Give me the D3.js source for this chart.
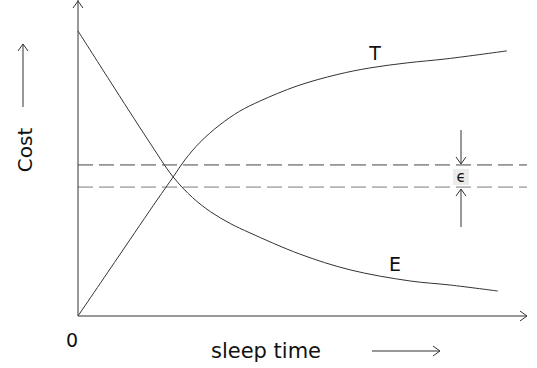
<!DOCTYPE html>
<html lang="en">
<head>
<meta charset="utf-8">
<title>Cost vs sleep time</title>
<script src="https://cdn.jsdelivr.net/npm/d3@7"></script>
<style>
  body { margin: 0; background: #fff; }
  svg text { font-family: 'DejaVu Sans', sans-serif; fill: #111; }
</style>
</head>
<body>
<script>
// sleep time (0..100) -> cost (0..100)
var eTime = [0, 7.1, 15.6, 21.2, 25.5, 29.5, 34.0, 38.3, 49.4, 60.6, 73.9, 82.9, 93.5];
var eCost = [90.2, 74.4, 55.7, 44.0, 37.5, 33.0, 29.2, 26.3, 19.6, 14.6, 11.1, 9.8, 7.9];
var tTime = [0, 9.4, 17.6, 21.2, 23.8, 27.2, 31.6, 36.0, 40.5, 48.8, 57.7, 65.0, 73.3, 82.2, 95.5];
var tCost = [0, 19.6, 36.7, 44.0, 49.4, 55.0, 60.5, 64.8, 68.0, 72.8, 76.4, 78.5, 80.1, 81.4, 83.9];
var bandLevels = [47.8, 40.8];   // the two dashed lines, epsilon apart
var curveLabels = ["T", "E"];

var w = 537, h = 368;
var x = d3.scaleLinear().domain([0, 100]).range([78, 527]);
var y = d3.scaleLinear().domain([0, 100]).range([316, 0]);

var svg = d3.select("body").append("svg")
    .attr("width", w)
    .attr("height", h);

// open arrow heads
function arrowHead(px, py, dir) {
  var s = 5, pts;
  if (dir == "up") pts = [[px - s, py + s * 1.4], [px, py], [px + s, py + s * 1.4]];
  if (dir == "down") pts = [[px - s, py - s * 1.4], [px, py], [px + s, py - s * 1.4]];
  if (dir == "right") pts = [[px - s * 1.4, py - s], [px, py], [px - s * 1.4, py + s]];
  svg.append("path")
    .attr("d", d3.line()(pts))
    .attr("fill", "none")
    .attr("stroke", "#333")
    .attr("stroke-width", 1);
}

function segment(x1, y1, x2, y2, col) {
  svg.append("line")
    .attr("x1", x1).attr("y1", y1).attr("x2", x2).attr("y2", y2)
    .attr("stroke", col || "#333")
    .attr("stroke-width", 1);
}

// dashed threshold lines
svg.selectAll(".band")
  .data(bandLevels)
  .enter().append("line")
  .attr("class", "band")
  .attr("x1", x(0)).attr("x2", x(100))
  .attr("y1", function(d) { return y(d); })
  .attr("y2", function(d) { return y(d); })
  .attr("stroke", function(d, i) { return i == 0 ? "#444" : "#7a7a7a"; })
  .attr("stroke-width", 1)
  .attr("stroke-dasharray", "15,6");

// axes
segment(x(0), y(0), x(0), 0);
segment(x(0), y(0), x(100), y(0));
arrowHead(x(0), 1, "up");
arrowHead(x(100), y(0), "right");

// curves
var line = d3.line()
    .x(function(d) { return x(d[0]); })
    .y(function(d) { return y(d[1]); })
    .curve(d3.curveCatmullRom.alpha(0.5));

var series = [d3.zip(tTime, tCost), d3.zip(eTime, eCost)];
svg.selectAll(".curve")
  .data(series)
  .enter().append("path")
  .attr("class", "curve")
  .attr("d", line)
  .attr("fill", "none")
  .attr("stroke", "#333")
  .attr("stroke-width", 1);

// curve labels
svg.append("text").attr("x", 375).attr("y", 60)
  .attr("text-anchor", "middle").style("font-size", "19px").text(curveLabels[0]);
svg.append("text").attr("x", 395).attr("y", 271)
  .attr("text-anchor", "middle").style("font-size", "19px").text(curveLabels[1]);

// epsilon marker
var ex = 461;
segment(ex, 130, ex, y(bandLevels[0]) - 1);
arrowHead(ex, y(bandLevels[0]) - 1, "down");
segment(ex, y(bandLevels[1]) + 2, ex, 227);
arrowHead(ex, y(bandLevels[1]) + 2, "up");
svg.append("rect")
  .attr("x", 453).attr("y", 169).attr("width", 16).attr("height", 16)
  .attr("fill", "#ebebeb");
svg.append("text").attr("x", ex).attr("y", 182)
  .attr("text-anchor", "middle").style("font-size", "15px").text("\u03f5");

// axis titles
svg.append("text").attr("x", 72).attr("y", 347)
  .attr("text-anchor", "middle").style("font-size", "19px").text("0");
svg.append("text").attr("x", 266).attr("y", 358)
  .attr("text-anchor", "middle").style("font-size", "21px").text("sleep time");
segment(372, 351, 440, 351);
arrowHead(440, 351, "right");

svg.append("text")
  .attr("transform", "translate(32,150) rotate(-90)")
  .attr("text-anchor", "middle").style("font-size", "20px").text("Cost");
segment(23, 107, 23, 44);
arrowHead(23, 44, "up");
</script>
</body>
</html>
